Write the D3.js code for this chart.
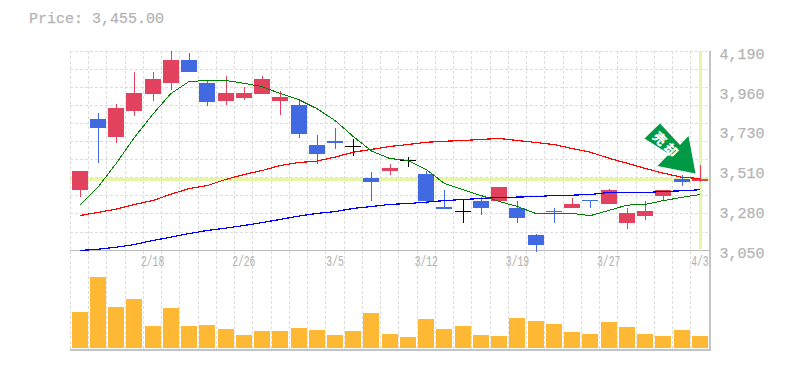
<!DOCTYPE html>
<html>
<head>
<meta charset="utf-8">
<script src="https://cdn.jsdelivr.net/npm/d3@7"></script>
<style>
  body { margin: 0; background: #fff; }
  text { font-family: "Liberation Mono", monospace; fill: #b4b4b4; stroke: #b4b4b4; stroke-width: 0.25px; }
</style>
</head>
<body>
<div id="chart"></div>
<script>
const width = 785,
    height = 370;

const dates = ["2/12", "2/13", "2/14", "2/15", "2/18", "2/19", "2/20", "2/21", "2/22", "2/26",
    "2/27", "2/28", "3/1", "3/4", "3/5", "3/6", "3/7", "3/8", "3/11", "3/12",
    "3/13", "3/14", "3/15", "3/18", "3/19", "3/20", "3/22", "3/25", "3/26", "3/27",
    "3/28", "3/29", "4/1", "4/2", "4/3"];
const dateLabels = ["2/18", "2/26", "3/5", "3/12", "3/19", "3/27", "4/3"];

const open = [3399, 3806, 3703, 3852, 3949, 4012, 4144, 4007, 3909, 3926,
    3949, 3909, 3886, 3657, 3680, 3646, 3468, 3503, 3566, 3491,
    3302, 3279, 3331, 3336, 3296, 3136, 3279, 3291, 3342, 3314,
    3210, 3250, 3365, 3457, 3451];
const close = [3503, 3749, 3869, 3955, 4030, 4144, 4070, 3898, 3955, 3955,
    4035, 3932, 3720, 3600, 3663, 3646, 3445, 3525, 3566, 3336,
    3285, 3279, 3291, 3411, 3239, 3084, 3268, 3314, 3331, 3394,
    3262, 3279, 3399, 3440, 3462];
const high = [3503, 3835, 3892, 4075, 4070, 4195, 4179, 4024, 4047, 3984,
    4047, 3961, 3904, 3709, 3749, 3686, 3497, 3548, 3588, 3503,
    3399, 3342, 3354, 3411, 3331, 3142, 3296, 3348, 3342, 3405,
    3296, 3336, 3399, 3480, 3537];
const low = [3359, 3554, 3663, 3823, 3904, 3972, 4070, 3875, 3881, 3915,
    3944, 3829, 3697, 3548, 3634, 3594, 3331, 3485, 3531, 3319,
    3285, 3210, 3256, 3336, 3205, 3044, 3210, 3291, 3291, 3314,
    3176, 3222, 3331, 3417, 3445];

const volume = [36, 71, 41, 49, 22, 40, 22, 23, 19, 13, 17, 17, 20, 18, 13, 17, 35, 14,
    11, 29, 19, 22, 13, 12, 30, 27, 24, 16, 14, 26, 21, 14, 12, 18, 12];

const maShort = [3308, 3412, 3548, 3697, 3829, 3949, 4018, 4024, 4024, 4008,
    3989, 3949, 3915, 3863, 3795, 3703, 3620, 3577, 3566, 3514,
    3434, 3399, 3365, 3331, 3302, 3262, 3262, 3262, 3250, 3279,
    3310, 3314, 3336, 3354, 3371];
const maMid = [3250, 3268, 3287, 3314, 3336, 3372, 3405, 3422, 3457, 3485,
    3508, 3537, 3554, 3562, 3585, 3613, 3629, 3646, 3657, 3670,
    3676, 3680, 3686, 3692, 3680, 3669, 3657, 3634, 3613, 3579,
    3550, 3520, 3493, 3470, 3462];
const maLong = [3050, 3057, 3069, 3084, 3107, 3126, 3147, 3165, 3178, 3193,
    3210, 3228, 3247, 3262, 3273, 3291, 3302, 3314, 3319, 3327,
    3336, 3342, 3348, 3354, 3356, 3359, 3365, 3367, 3371, 3382,
    3382, 3382, 3388, 3392, 3398];

const priceLevel = 3462;
const lastPrice = "3,455.00";
const priceTicks = [4190, 3962, 3734, 3506, 3278, 3050];

const x = d3.scaleBand()
    .domain(dates)
    .range([70.5, 709])
    .paddingInner(0.12)
    .paddingOuter(0.06);
const gap = x.step() * 0.06;

const y = d3.scaleLinear()
    .domain([3050, 4190])
    .range([250.5, 51.5]);

const yVol = d3.scaleLinear()
    .domain([0, d3.max(volume)])
    .range([348, 277]);

const svg = d3.select("#chart")
    .append("svg")
    .attr("width", width)
    .attr("height", height)
    .style("display", "block");

svg.append("text")
    .attr("x", 29)
    .attr("y", 23)
    .style("font-size", "15px")
    .text("Price: " + lastPrice);

// grid
const gridDash = "3,2";
const crisp = svg.append("g").attr("shape-rendering", "crispEdges");

crisp.selectAll("line.v")
    .data(dates)
    .join("line")
    .attr("class", "v")
    .attr("x1", d => Math.floor(x(d) - gap) + 0.5)
    .attr("x2", d => Math.floor(x(d) - gap) + 0.5)
    .attr("y1", 51)
    .attr("y2", 349)
    .attr("stroke", "#ddd")
    .attr("stroke-dasharray", gridDash);

crisp.selectAll("line.h")
    .data(d3.range(11))
    .join("line")
    .attr("class", "h")
    .attr("x1", 70)
    .attr("x2", 709)
    .attr("y1", i => Math.floor(51 + i * 18.1) + 0.5)
    .attr("y2", i => Math.floor(51 + i * 18.1) + 0.5)
    .attr("stroke", "#ddd")
    .attr("stroke-dasharray", gridDash);

// frame
crisp.append("line").attr("x1", 70).attr("x2", 710).attr("y1", 250.5).attr("y2", 250.5).attr("stroke", "#bbb");
crisp.append("line").attr("x1", 70).attr("x2", 711).attr("y1", 350).attr("y2", 350).attr("stroke", "#c4c4c4").attr("stroke-width", 2);
crisp.append("line").attr("x1", 710).attr("x2", 710).attr("y1", 51).attr("y2", 351).attr("stroke", "#c4c4c4").attr("stroke-width", 2);

// current price cross
const lime = "#e6f5a8";
const lastX = x(dates[dates.length - 1]) + x.bandwidth() / 2;
crisp.append("rect")
    .attr("x", 70)
    .attr("y", Math.round(y(priceLevel)) - 1)
    .attr("width", 639)
    .attr("height", 3)
    .attr("fill", lime);
crisp.append("rect")
    .attr("x", Math.round(lastX) - 1)
    .attr("y", 51)
    .attr("width", 3)
    .attr("height", 198)
    .attr("fill", lime);

// volume
crisp.selectAll("rect.vol")
    .data(volume)
    .join("rect")
    .attr("class", "vol")
    .attr("x", (d, i) => Math.round(x(dates[i])))
    .attr("width", 16)
    .attr("y", d => Math.round(yVol(d)))
    .attr("height", d => yVol(0) - Math.round(yVol(d)))
    .attr("fill", "#ffb833");

// candles
const candleColor = i => close[i] > open[i] ? "#e3425f" : close[i] < open[i] ? "#4169e1" : "#000";

const candles = crisp.selectAll("g.candle")
    .data(dates)
    .join("g")
    .attr("class", "candle");

candles.append("line")
    .attr("x1", (d, i) => Math.round(x(d)) + 8.5)
    .attr("x2", (d, i) => Math.round(x(d)) + 8.5)
    .attr("y1", (d, i) => Math.round(y(high[i])))
    .attr("y2", (d, i) => Math.round(y(low[i])))
    .attr("stroke", (d, i) => candleColor(i));

candles.append("rect")
    .attr("x", d => Math.round(x(d)))
    .attr("width", 16)
    .attr("y", (d, i) => Math.round(y(Math.max(open[i], close[i]))))
    .attr("height", (d, i) => Math.max(1, Math.round(y(Math.min(open[i], close[i]))) - Math.round(y(Math.max(open[i], close[i])))))
    .attr("fill", (d, i) => candleColor(i));

// moving averages
const line = d3.line()
    .x((d, i) => x(dates[i]) + x.bandwidth() / 2)
    .y(d => y(d));

[[maLong, "#0000ff", 1.2], [maMid, "#ff0000", 1.2], [maShort, "#008000", 1]].forEach(([values, colour, w]) => {
    svg.append("path")
        .attr("d", line(values))
        .attr("fill", "none")
        .attr("stroke", colour)
        .attr("stroke-width", w)
        .attr("shape-rendering", "crispEdges");
});

// arrow badge
const badge = svg.append("g");
badge.append("path")
    .attr("d", "M644.5,138.5 L660,123.5 L680,145 L688.5,136 L695.5,173.5 L657.5,166 L669,154 Z")
    .attr("fill", "#009944");
badge.append("text")
    .attr("transform", "translate(667,145) rotate(45)")
    .attr("text-anchor", "middle")
    .attr("dominant-baseline", "central")
    .style("font-family", "'Noto Sans CJK JP'")
    .style("font-size", "13px")
    .style("font-weight", "900")
    .style("letter-spacing", "3px")
    .style("fill", "#fff")
    .style("stroke", "none")
    .text("売却");

// axes
const yAxis = d3.axisRight(y)
    .tickValues(priceTicks)
    .tickSize(0)
    .tickPadding(10)
    .tickFormat(d => d3.format(",")(Math.round(d / 10) * 10));

svg.append("g")
    .attr("transform", "translate(709.5,0)")
    .call(yAxis)
    .call(g => g.select(".domain").remove())
    .selectAll("text")
    .attr("dy", "0.45em")
    .style("font-size", "15px")
    .style("font-family", "'Liberation Mono', monospace");

const xAxis = d3.axisBottom(x)
    .tickValues(dateLabels)
    .tickSize(0)
    .tickPadding(6);

svg.append("g")
    .attr("transform", "translate(0,250)")
    .call(xAxis)
    .call(g => g.select(".domain").remove())
    .selectAll("text")
    .style("font-size", "14px")
    .style("font-family", "'Liberation Mono', monospace")
    .style("stroke-width", "0.1px")
    .attr("textLength", d => d.length * 5.8)
    .attr("lengthAdjust", "spacingAndGlyphs");
</script>
</body>
</html>
